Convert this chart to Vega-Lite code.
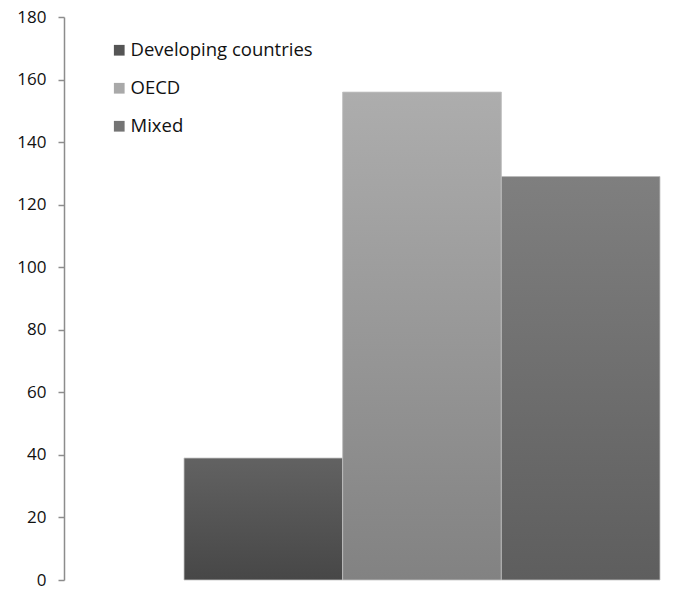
{
  "$schema": "https://vega.github.io/schema/vega-lite/v6.json",
  "autosize": "none",
  "width": 612,
  "height": 563,
  "padding": {"left": 64, "top": 17, "right": 0, "bottom": 11},
  "background": "white",
  "config": {
    "view": {"stroke": null},
    "font": "Open Sans"
  },
  "data": {
    "values": [
      {"group": "Developing countries", "value": 39},
      {"group": "OECD", "value": 156},
      {"group": "Mixed", "value": 129}
    ]
  },
  "encoding": {
    "x": {
      "field": "group",
      "type": "nominal",
      "sort": ["Developing countries", "OECD", "Mixed"],
      "scale": {"range": [120, 596], "paddingInner": 0, "paddingOuter": 0},
      "axis": null
    },
    "y": {
      "field": "value",
      "type": "quantitative",
      "scale": {"domain": [0, 180], "nice": false},
      "axis": {
        "title": null,
        "values": [0, 20, 40, 60, 80, 100, 120, 140, 160, 180],
        "grid": false,
        "domainColor": "#8c8c8c",
        "domainWidth": 1.5,
        "tickColor": "#8c8c8c",
        "tickWidth": 1.5,
        "tickSize": 6,
        "labelPadding": 12,
        "labelFont": "Open Sans",
        "labelFontSize": 17,
        "labelColor": "#111111"
      }
    }
  },
  "layer": [
    {
      "mark": {"type": "bar"},
      "encoding": {
        "color": {
          "field": "group",
          "type": "nominal",
          "sort": ["Developing countries", "OECD", "Mixed"],
          "scale": {
            "domain": ["Developing countries", "OECD", "Mixed"],
            "range": ["#555555", "#a9a9a9", "#747474"]
          },
          "legend": {
            "title": null,
            "orient": "none",
            "legendX": 46,
            "legendY": 24,
            "symbolType": "square",
            "symbolSize": 115,
            "symbolStrokeWidth": 0,
            "labelFont": "Open Sans",
            "labelFontSize": 18.5,
            "labelColor": "#111111",
            "labelLimit": 400,
            "labelOffset": 2,
            "rowPadding": 19,
            "padding": 0
          }
        }
      }
    },
    {
      "mark": {"type": "bar", "stroke": "#c4c4c4", "strokeWidth": 0.8},
      "encoding": {
        "fill": {
          "condition": [
            {
              "test": "datum.group === 'OECD'",
              "value": {
                "gradient": "linear", "x1": 0, "y1": 0, "x2": 0, "y2": 1,
                "stops": [{"offset": 0, "color": "#adadad"}, {"offset": 1, "color": "#828282"}]
              }
            },
            {
              "test": "datum.group === 'Mixed'",
              "value": {
                "gradient": "linear", "x1": 0, "y1": 0, "x2": 0, "y2": 1,
                "stops": [{"offset": 0, "color": "#7f7f7f"}, {"offset": 1, "color": "#5e5e5e"}]
              }
            }
          ],
          "value": {
            "gradient": "linear", "x1": 0, "y1": 0, "x2": 0, "y2": 1,
            "stops": [{"offset": 0, "color": "#626262"}, {"offset": 1, "color": "#474747"}]
          }
        }
      }
    }
  ]
}
